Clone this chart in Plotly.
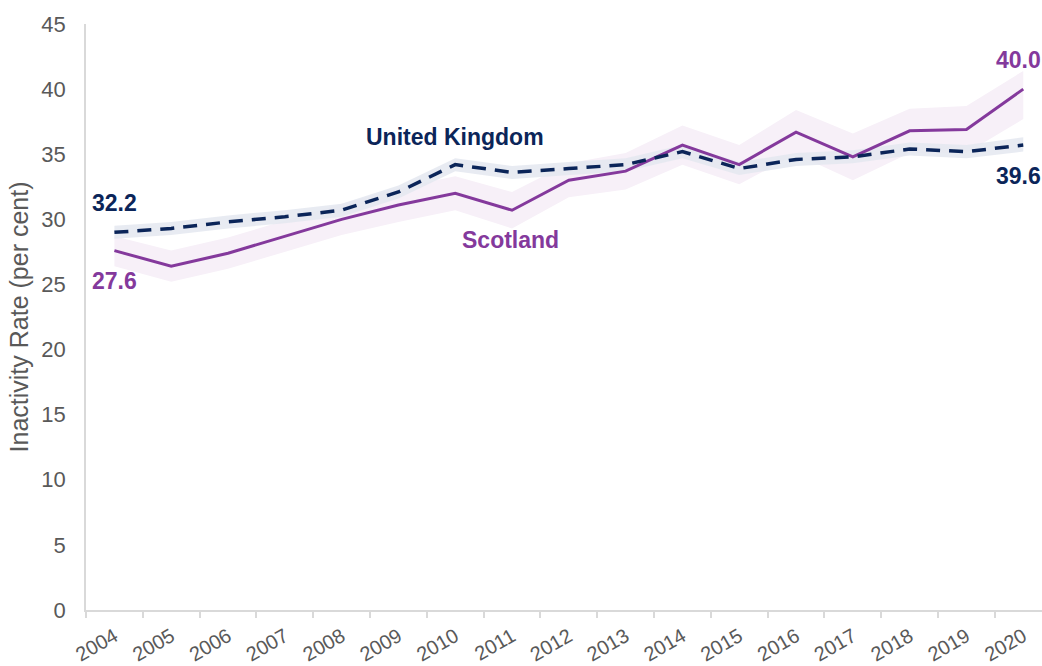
import plotly.graph_objects as go

years = [str(y) for y in range(2004, 2021)]
scotland = [27.6, 26.4, 27.4, 28.7, 30.0, 31.1, 32.0, 30.7, 33.0, 33.7, 35.7, 34.2, 36.7, 34.8, 36.8, 36.9, 40.0]
uk = [29.0, 29.3, 29.8, 30.2, 30.7, 32.1, 34.2, 33.6, 33.9, 34.2, 35.2, 33.9, 34.6, 34.8, 35.4, 35.2, 35.7]
scot_hi = [28.7, 27.6, 28.6, 29.9, 31.2, 32.4, 33.3, 32.1, 34.3, 35.1, 37.2, 35.7, 38.4, 36.6, 38.5, 38.7, 41.4]
scot_lo = [26.4, 25.2, 26.2, 27.5, 28.8, 29.8, 30.7, 29.3, 31.7, 32.3, 34.2, 32.7, 35.0, 33.0, 35.1, 35.1, 37.7]
uk_hi = [29.5, 29.8, 30.3, 30.7, 31.2, 32.6, 34.7, 34.1, 34.4, 34.7, 35.7, 34.4, 35.1, 35.3, 35.9, 35.7, 36.3]
uk_lo = [28.5, 28.8, 29.3, 29.7, 30.2, 31.6, 33.7, 33.1, 33.4, 33.7, 34.7, 33.4, 34.1, 34.3, 34.9, 34.7, 35.2]
y_ticks = [0, 5, 10, 15, 20, 25, 30, 35, 40, 45]

PURPLE = "#84399c"
NAVY = "#0b2559"
GREY = "#595959"

x = list(range(len(years)))

fig = go.Figure()
fig.add_trace(go.Scatter(x=x + x[::-1], y=scot_hi + scot_lo[::-1], fill="toself",
                         fillcolor="#f7f0f8", line=dict(width=0), hoverinfo="skip", showlegend=False))
fig.add_trace(go.Scatter(x=x + x[::-1], y=uk_hi + uk_lo[::-1], fill="toself",
                         fillcolor="rgba(228,231,240,0.85)", line=dict(width=0), hoverinfo="skip", showlegend=False))
fig.add_trace(go.Scatter(x=x, y=scotland, mode="lines", line=dict(color=PURPLE, width=3),
                         name="Scotland", showlegend=False))
fig.add_trace(go.Scatter(x=x, y=uk, mode="lines", line=dict(color=NAVY, width=3.5, dash="14px,9px"),
                         name="United Kingdom", showlegend=False))

bold = dict(family="Liberation Sans, Arial, sans-serif", size=23, weight="bold")
ann = [
    dict(x=6.0, y=36.3, text="United Kingdom", font=dict(color=NAVY, **bold)),
    dict(x=6.97, y=28.4, text="Scotland", font=dict(color=PURPLE, **bold)),
    dict(x=x[0], y=scotland[0], yshift=-30, text=f"{scotland[0]:.1f}", font=dict(color=PURPLE, **bold)),
    dict(x=x[0], y=uk[0], yshift=29, text="32.2", font=dict(color=NAVY, **bold)),
    dict(x=x[-1], y=scotland[-1], yshift=29, xshift=20, xanchor="right",
         text=f"{scotland[-1]:.1f}", font=dict(color=PURPLE, **bold)),
    dict(x=x[-1], y=uk[-1], yshift=-31, xshift=20, xanchor="right",
         text="39.6", font=dict(color=NAVY, **bold)),
]
for a in ann:
    a.setdefault("xanchor", "center")
    a.update(xref="x", yref="y", showarrow=False, yanchor="middle")

fig.update_layout(
    width=1042, height=666,
    margin=dict(l=86, r=0, t=24, b=56),
    plot_bgcolor="white", paper_bgcolor="white",
    font=dict(family="Liberation Sans, Arial, sans-serif", color=GREY),
    annotations=ann,
    xaxis=dict(
        range=[-0.5, 16.33], automargin=False,
        tickvals=x, ticktext=years,
        tickangle=-30, ticks="", tickfont=dict(size=20, color=GREY),
        ticklabelstandoff=5,
        showline=True, linecolor="#d9d9d9", linewidth=2,
        showgrid=False, zeroline=False,
        minor=dict(tickvals=[i - 0.5 for i in x], ticks="outside", ticklen=6,
                   tickcolor="#d9d9d9", tickwidth=1.5, showgrid=False),
    ),
    yaxis=dict(
        range=[0, 45], automargin=False, tickvals=y_ticks, ticks="",
        tickfont=dict(size=22, color=GREY),
        ticklabelstandoff=14,
        showline=True, linecolor="#d9d9d9", linewidth=1.5,
        showgrid=False, zeroline=False,
        title=dict(text="Inactivity Rate (per cent)", font=dict(size=25, color=GREY), standoff=6),
    ),
)

fig.write_html("out.html", config={"displayModeBar": False},
               post_script="document.body.style.margin='0';document.body.style.overflow='hidden';")
